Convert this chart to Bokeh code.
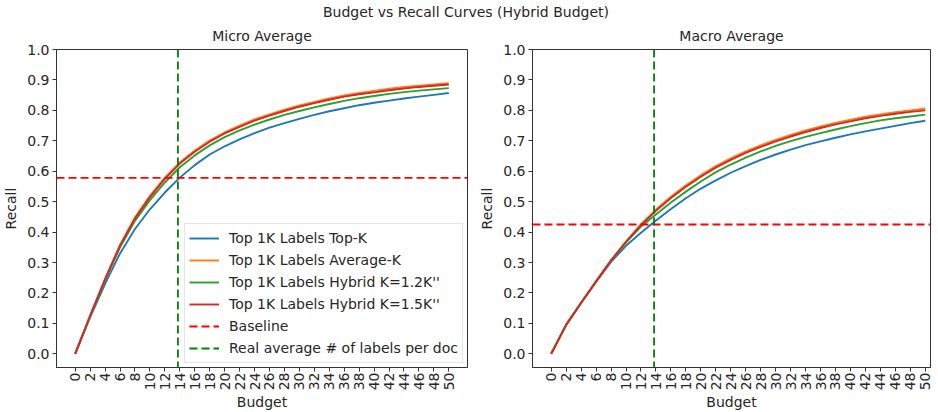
import math
from bokeh.plotting import figure
from bokeh.models import Span, FixedTicker, NumeralTickFormatter, Div, Legend, LegendItem, Range1d
from bokeh.layouts import column, row
from bokeh.embed import file_html
from bokeh.resources import INLINE

suptitle = "Budget vs Recall Curves (Hybrid Budget)"
panel_titles = ["Micro Average", "Macro Average"]
series_names = ["Top 1K Labels Top-K", "Top 1K Labels Average-K",
                "Top 1K Labels Hybrid K=1.2K''", "Top 1K Labels Hybrid K=1.5K''"]
baseline_label = "Baseline"
avg_label = "Real average # of labels per doc"

budgets = list(range(0, 51, 2))

micro_topk = [0, 0.12, 0.23, 0.33, 0.41, 0.475, 0.53, 0.579, 0.62, 0.655, 0.682, 0.705, 0.725,
              0.743, 0.758, 0.772, 0.785, 0.797, 0.807, 0.817, 0.825, 0.832, 0.839, 0.845, 0.851, 0.857]
micro_avgk = [0, 0.125, 0.246, 0.358, 0.448, 0.519, 0.579, 0.629, 0.668, 0.701, 0.728, 0.750, 0.770,
              0.787, 0.802, 0.816, 0.828, 0.839, 0.849, 0.857, 0.864, 0.871, 0.877, 0.881, 0.885, 0.889]
micro_h12 = [0, 0.125, 0.243, 0.35, 0.437, 0.505, 0.563, 0.613, 0.652, 0.685, 0.712, 0.734, 0.753,
             0.77, 0.785, 0.798, 0.81, 0.821, 0.831, 0.84, 0.847, 0.854, 0.86, 0.865, 0.869, 0.873]
micro_h15 = [0, 0.125, 0.245, 0.355, 0.445, 0.515, 0.575, 0.625, 0.664, 0.697, 0.724, 0.746, 0.766,
             0.783, 0.798, 0.812, 0.824, 0.835, 0.845, 0.853, 0.859, 0.866, 0.872, 0.877, 0.881, 0.885]

macro_topk = [0, 0.095, 0.167, 0.236, 0.302, 0.355, 0.398, 0.438, 0.476, 0.511, 0.543, 0.57, 0.595,
              0.617, 0.637, 0.655, 0.671, 0.686, 0.698, 0.71, 0.721, 0.731, 0.74, 0.749, 0.758, 0.766]
macro_avgk = [0, 0.095, 0.168, 0.238, 0.307, 0.369, 0.426, 0.474, 0.516, 0.554, 0.587, 0.617, 0.642,
              0.665, 0.685, 0.703, 0.719, 0.734, 0.747, 0.759, 0.769, 0.779, 0.787, 0.794, 0.800, 0.806]
macro_h12 = [0, 0.095, 0.168, 0.238, 0.306, 0.366, 0.418, 0.458, 0.497, 0.533, 0.566, 0.597, 0.622,
             0.645, 0.665, 0.683, 0.699, 0.713, 0.725, 0.737, 0.748, 0.758, 0.767, 0.774, 0.78, 0.786]
macro_h15 = [0, 0.095, 0.168, 0.238, 0.307, 0.368, 0.423, 0.47, 0.512, 0.549, 0.582, 0.612, 0.637,
             0.66, 0.68, 0.698, 0.714, 0.729, 0.742, 0.754, 0.764, 0.774, 0.782, 0.789, 0.795, 0.8]

baselines = [0.578, 0.425]
real_avg_labels = 13.75

y_ticks = [round(i * 0.1, 1) for i in range(11)]
x_ticks = list(range(0, 51, 2))

colors = ["#1f77b4", "#ff7f0e", "#2ca02c", "#d62728"]
FONT = "DejaVu Sans"
FS = "14px"
TXT = "#262626"


def make_panel(title, series, baseline, frame_w, x_end, border_left, border_right, legend):
    p = figure(frame_width=frame_w, frame_height=318, output_backend="svg", toolbar_location=None,
               x_range=Range1d(-2.5, x_end), y_range=Range1d(-0.045, 1.0),
               min_border_left=border_left, min_border_right=border_right,
               min_border_top=29, min_border_bottom=40, title=title)
    p.title.align = "center"
    p.title.text_font = FONT
    p.title.text_font_size = FS
    p.title.text_font_style = "normal"
    p.title.text_color = TXT
    p.title.standoff = 11
    p.xgrid.visible = False
    p.ygrid.visible = False
    p.outline_line_color = "#333333"
    p.outline_line_width = 1
    p.background_fill_color = "white"
    p.border_fill_color = "white"

    renderers = []
    for vals, c in zip(series, colors):
        r = p.line(budgets, vals, line_color=c, line_width=1.9)
        renderers.append(r)

    p.add_layout(Span(location=baseline, dimension="width", line_color="red",
                      line_dash="8 4", line_width=1.8))
    p.add_layout(Span(location=real_avg_labels, dimension="height", line_color="green",
                      line_dash="8 4", line_width=1.8))

    for ax in (p.xaxis[0], p.yaxis[0]):
        ax.major_label_text_font = FONT
        ax.major_label_text_font_size = FS
        ax.major_label_text_color = TXT
        ax.axis_label_text_font = FONT
        ax.axis_label_text_font_size = FS
        ax.axis_label_text_font_style = "normal"
        ax.axis_label_text_color = TXT
        ax.axis_line_color = "#333333"
        ax.major_tick_line_color = "#333333"
        ax.major_tick_out = 4
        ax.major_tick_in = 0
        ax.minor_tick_line_color = None

    p.xaxis.ticker = FixedTicker(ticks=x_ticks)
    p.xaxis.major_label_orientation = math.pi / 2
    p.xaxis.axis_label = "Budget"
    p.xaxis.axis_label_standoff = 1
    p.xaxis.major_label_standoff = 1
    p.yaxis.ticker = FixedTicker(ticks=y_ticks)
    p.yaxis.formatter = NumeralTickFormatter(format="0.0")
    p.yaxis.axis_label = "Recall"
    p.yaxis.axis_label_standoff = 5
    p.yaxis.major_label_standoff = 3

    if legend:
        # single-point proxies (invisible) so that the legend shows the dashed reference lines
        b = p.line([real_avg_labels], [baseline], line_color="red", line_dash="8 4", line_width=1.8)
        g = p.line([real_avg_labels], [baseline], line_color="green", line_dash="8 4", line_width=1.8)
        items = [LegendItem(label=n, renderers=[r]) for n, r in zip(series_names, renderers)]
        items.append(LegendItem(label=baseline_label, renderers=[b]))
        items.append(LegendItem(label=avg_label, renderers=[g]))
        leg = Legend(items=items, location="bottom_right")
        leg.label_text_font = FONT
        leg.label_text_font_size = FS
        leg.label_text_color = TXT
        leg.glyph_width = 30
        leg.glyph_height = 20
        leg.label_height = 20
        leg.label_standoff = 10
        leg.spacing = 2
        leg.padding = 4
        leg.margin = 4
        leg.border_line_color = "#cccccc"
        leg.background_fill_alpha = 0.8
        p.add_layout(leg)
    return p


p1 = make_panel(panel_titles[0], [micro_topk, micro_avgk, micro_h12, micro_h15],
                baselines[0], 411, 52.5, 51, 9, True)
p2 = make_panel(panel_titles[1], [macro_topk, macro_avgk, macro_h12, macro_h15],
                baselines[1], 398, 50.7, 49, 4, False)

head = Div(text=suptitle, width=922, height=10,
           styles={"text-align": "center", "font-family": FONT, "font-size": FS,
                   "color": TXT, "line-height": "14px"})

layout = column(head, row(p1, p2))
open("out.html", "w").write(file_html(layout, INLINE))
